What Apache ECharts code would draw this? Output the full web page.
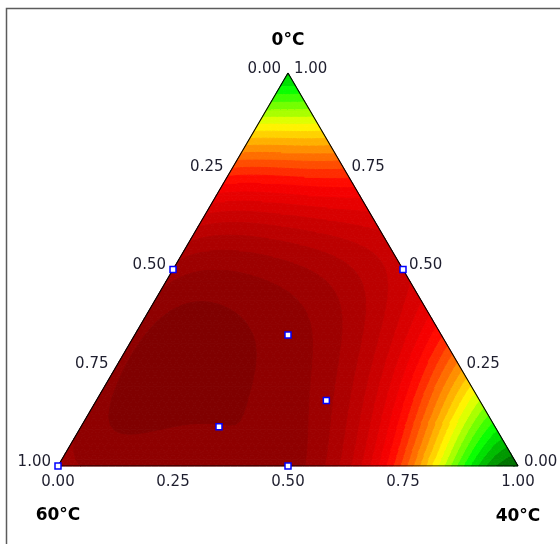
<!DOCTYPE html>
<html><head><meta charset="utf-8">
<script src="https://cdn.jsdelivr.net/npm/echarts@6/dist/echarts.min.js"></script>
<style>html,body{margin:0;padding:0;background:#fff}#chart{width:560px;height:544px}</style>
</head><body><div id="chart"></div>
<script>
// Mixture components at the triangle corners: top, bottom-right, bottom-left
const componentNames = ['0°C', '40°C', '60°C'];
const tickValues = [0, 0.25, 0.5, 0.75, 1];

// Design runs: fraction of each component in every blend
const run0C  = [0.5, 0.5, 0.3333, 0.1667, 0.1, 0, 0];
const run40C = [0, 0.5, 0.3333, 0.5, 0.3, 0.5, 0];
const run60C = [0.5, 0, 0.3333, 0.3333, 0.6, 0.5, 1];

// Fitted response surface (degree-5 mixture polynomial):
// exponents of (x0C, x60C, x40C) and the coefficient of each term
const surfacePowers = [
  [5,0,0],[4,1,0],[4,0,1],[3,2,0],[3,1,1],[3,0,2],[2,3,0],[2,2,1],[2,1,2],[2,0,3],
  [1,4,0],[1,3,1],[1,2,2],[1,1,3],[1,0,4],[0,5,0],[0,4,1],[0,3,2],[0,2,3],[0,1,4],[0,0,5]
];
const surfaceCoef = [
  0.1349, 1.9985, 2.0425, 12.3974, 24.3165, 12.2055, 8.3955, 32.3589, 19.6436, 9.2932,
  5.0934, 21.7811, 23.1605, 25.0839, 1.5868, 0.8947, 5.4280, 5.1691, 18.4901, 0.2480, 0.0335
];

function response(a, b, c) {
  let s = 0;
  for (let i = 0; i < surfacePowers.length; i++) {
    const p = surfacePowers[i];
    s += surfaceCoef[i] * Math.pow(a, p[0]) * Math.pow(b, p[1]) * Math.pow(c, p[2]);
  }
  return s;
}

// Contour bands: dark green -> green -> yellow -> red -> dark red
const nBands = 27;
const rampPos = [0, 5 / 27, 10 / 27, 18 / 27, 1];
const rampCol = [[0, 0x50, 0], [0, 255, 0], [255, 255, 0], [255, 0, 0], [0x80, 0, 0]];
function ramp(t) {
  for (let i = 1; i < rampPos.length; i++) if (t <= rampPos[i] + 1e-9) {
    const f = (t - rampPos[i - 1]) / (rampPos[i] - rampPos[i - 1]);
    const c = rampCol[i - 1].map((v, k) => Math.round(v + f * (rampCol[i][k] - v)));
    return 'rgb(' + c.join(',') + ')';
  }
  return 'rgb(128,0,0)';
}
const bandColor = [];
for (let k = 0; k < nBands; k++) bandColor.push(ramp(k / (nBands - 1)));
const levels = [];
for (let k = 0; k <= nBands; k++) levels.push(k / nBands);

// Cut a polygon (points carry [x, y, value]) at one contour level
function clip(poly, lvl, keepAbove) {
  const out = [];
  for (let i = 0; i < poly.length; i++) {
    const P = poly[i], Q = poly[(i + 1) % poly.length];
    const pin = keepAbove ? P[2] >= lvl : P[2] <= lvl;
    const qin = keepAbove ? Q[2] >= lvl : Q[2] <= lvl;
    if (pin) out.push(P);
    if (pin !== qin) {
      const t = (lvl - P[2]) / (Q[2] - P[2]);
      out.push([P[0] + t * (Q[0] - P[0]), P[1] + t * (Q[1] - P[1]), lvl]);
    }
  }
  return out;
}

// Ternary lattice -> cartesian data space: x = x40 + x0/2, y = x0
const N = 64;
function node(i, j) { const a = i / N, c = j / N; return [c + a / 2, a, response(a, 1 - a - c, c)]; }
function bandOf(v) { return Math.max(0, Math.min(nBands - 1, Math.floor(v * nBands))); }
const bandPolys = [];
function addTri(tri) {
  const vs = tri.map(p => p[2]);
  const k0 = bandOf(Math.min(...vs)), k1 = bandOf(Math.max(...vs));
  for (let k = k0; k <= k1; k++) {
    let p = tri;
    if (k > 0) p = clip(p, levels[k], true);
    if (p.length >= 3 && k < nBands - 1) p = clip(p, levels[k + 1], false);
    if (p.length >= 3) bandPolys.push({k: k, pts: p});
  }
}
for (let i = 0; i < N; i++) for (let j = 0; i + j < N; j++) {
  addTri([node(i, j), node(i, j + 1), node(i + 1, j)]);
  if (i + j < N - 1) addTri([node(i + 1, j), node(i, j + 1), node(i + 1, j + 1)]);
}

const tickFont = {fontFamily: 'DejaVu Sans', fontSize: 15, color: '#1e1e2e'};
const fmt = p => p.value[2].toFixed(2);
const solid = {opacity: 1};
const chart = echarts.init(document.getElementById('chart'));
chart.setOption({
  animation: false,
  grid: {left: 58, top: 73, width: 460, height: 393},
  xAxis: {type: 'value', min: 0, max: 1, show: false},
  yAxis: {type: 'value', min: 0, max: 1, show: false},
  graphic: [
    {type: 'rect', shape: {x: 6.5, y: 8.5, width: 600, height: 600},
     style: {fill: 'none', stroke: '#5c5c5c', lineWidth: 1.5}}
  ],
  series: [{
    // filled contour bands
    type: 'custom', silent: true, progressive: 0, z: 1,
    data: bandPolys.map((p, i) => [p.pts[0][0], p.pts[0][1], i]),
    renderItem: function (params, api) {
      const p = bandPolys[params.dataIndex];
      const col = bandColor[p.k];
      return {type: 'polygon', shape: {points: p.pts.map(q => api.coord([q[0], q[1]]))},
              style: {fill: col, stroke: col, lineWidth: 1}};
    }
  }, {
    // triangle outline
    type: 'line', silent: true, z: 2, symbol: 'none',
    data: [[0, 0], [1, 0], [0.5, 1], [0, 0]],
    lineStyle: {color: '#000', width: 1.1}
  }, {
    // design points
    type: 'scatter', silent: true, z: 4, symbol: 'rect', symbolSize: 6,
    data: run0C.map((a, i) => [run40C[i] + a / 2, a, run60C[i]]),
    itemStyle: {color: '#fff', borderColor: '#0000ff', borderWidth: 1.5, opacity: 1}
  }, {
    // 40°C axis (bottom edge)
    type: 'scatter', silent: true, z: 3, symbolSize: 0, itemStyle: solid,
    data: tickValues.map(v => [v, 0, v]),
    label: {show: true, position: 'bottom', distance: 9, formatter: fmt, ...tickFont}
  }, {
    // 0°C axis (right edge)
    type: 'scatter', silent: true, z: 3, symbolSize: 0, itemStyle: solid,
    data: tickValues.map(v => [1 - v / 2, v, v]),
    label: {show: true, position: 'right', distance: 6, offset: [0, -4], formatter: fmt, ...tickFont}
  }, {
    // 60°C axis (left edge)
    type: 'scatter', silent: true, z: 3, symbolSize: 0, itemStyle: solid,
    data: tickValues.map(v => [(1 - v) / 2, 1 - v, v]),
    label: {show: true, position: 'left', distance: 7, offset: [0, -4], formatter: fmt, ...tickFont}
  }, {
    // corner names
    type: 'scatter', silent: true, z: 3, symbolSize: 0, itemStyle: solid,
    data: [[0.5, 1, 0], [1, 0, 1], [0, 0, 2]],
    label: {show: true, position: 'inside', formatter: p => componentNames[p.value[2]],
      fontFamily: 'DejaVu Sans', fontWeight: 'bold', fontSize: 17, color: '#000'},
    labelLayout: p => ({dy: [-32, 51, 50][p.dataIndex]})
  }]
});
</script></body></html>
